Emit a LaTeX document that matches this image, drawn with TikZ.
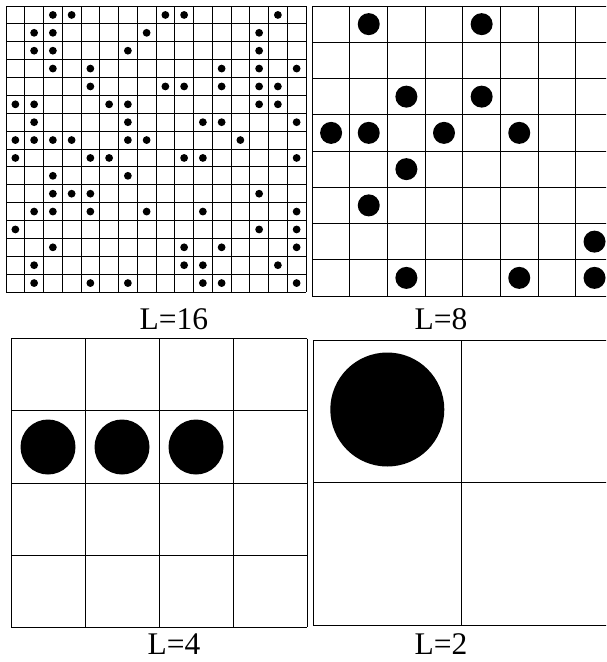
\documentclass[tikz,border=0pt]{standalone}
\usepackage{fontspec}
\setmainfont{Liberation Serif}
\begin{document}
\begin{tikzpicture}[x=1pt,y=-1pt,
  gridline/.style={line width=0.9pt, draw=black},
  dotfill/.style={fill=black, draw=none},
  lbl/.style={font=\fontsize{31.5}{36}\selectfont, anchor=base, inner sep=0pt}]
\useasboundingbox (0,0) rectangle (606,662);
\begin{scope}
\clip (0,0) rectangle (606,662);
% ---------- L=16 ----------
\foreach \i in {0,...,16} {
  \draw[gridline] ({6+18.75*\i},6) -- ({6+18.75*\i},292);
  \draw[gridline] (6,{6+17.875*\i}) -- (306,{6+17.875*\i});
}
\foreach \r/\cols in {0/{2,3,8,9,14},1/{1,2,7,13},2/{1,2,6,13},3/{2,4,11,13,15},
  4/{4,8,9,11,13,14},5/{0,1,5,6,13,14},6/{1,6,10,11,15},7/{0,1,2,3,6,7,12},
  8/{0,4,5,9,10,15},9/{2,6},10/{2,3,4,13},11/{1,2,4,7,10,15},12/{0,13,15},
  13/{2,9,11,15},14/{1,9,10,14},15/{1,4,6,10,11,15}} {
  \foreach \c in \cols {
    \fill[dotfill] ({6+18.75*(\c+0.5)},{6+17.875*(\r+0.5)}) circle (3.9);
  }
}
% ---------- L=8 ----------
\foreach \i in {0,...,8} {
  \draw[gridline] ({312.3+37.63*\i},6) -- ({312.3+37.63*\i},296);
  \draw[gridline] (312.3,{6+36.25*\i}) -- (613.3,{6+36.25*\i});
}
\foreach \r/\cols in {0/{1,4},2/{2,4},3/{0,1,3,5},4/{2},5/{1},6/{7},7/{2,5,7}} {
  \foreach \c in \cols {
    \fill[dotfill] ({312.3+37.63*(\c+0.5)},{6+36.25*(\r+0.5)}) circle (11);
  }
}
% ---------- L=4 ----------
\foreach \i in {0,...,4} {
  \draw[gridline] ({11+74*\i},338.7) -- ({11+74*\i},627.3);
  \draw[gridline] (11,{338.7+72.15*\i}) -- (307,{338.7+72.15*\i});
}
\foreach \c in {0,1,2} {
  \fill[dotfill] ({11+74*(\c+0.5)},447) circle (27.5);
}
% ---------- L=2 ----------
\foreach \i in {0,1,2} {
  \draw[gridline] ({313.3+148.4*\i},340) -- ({313.3+148.4*\i},625.3);
  \draw[gridline] (313.3,{340+142.65*\i}) -- (610.1,{340+142.65*\i});
}
\fill[dotfill] (387.3,409.5) circle (57);
\end{scope}
% ---------- labels ----------
\node[lbl] (l16) at (173.8,329) {L=16};
\node[lbl] (l8) at (441,329) {L=8};
\node[lbl] (l4) at (174,654.5) {L=4};
\node[lbl] (l2) at (441,654.5) {L=2};
\end{tikzpicture}
\end{document}
